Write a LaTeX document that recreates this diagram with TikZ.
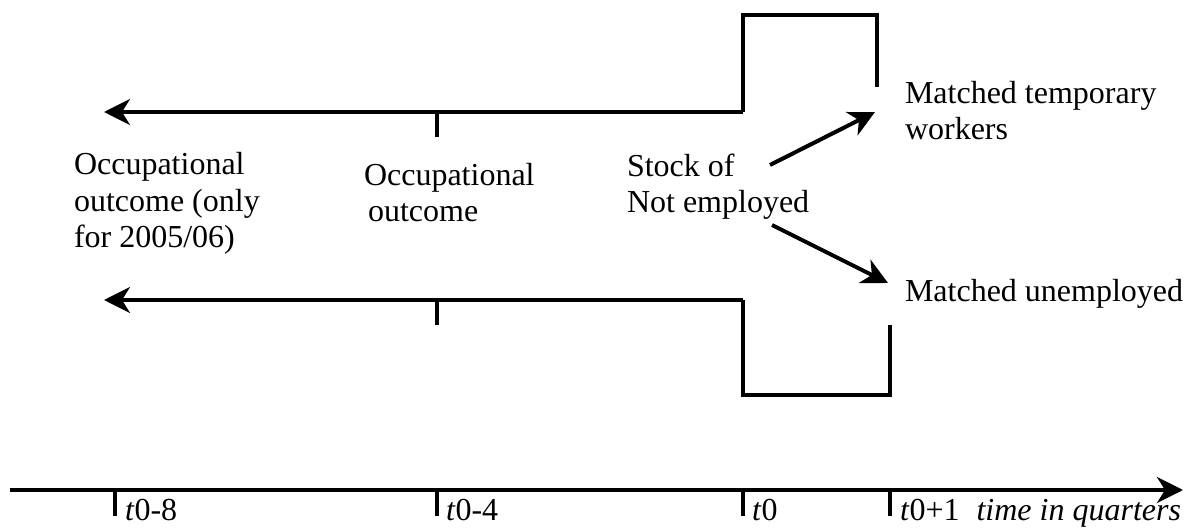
\documentclass[tikz,border=0pt]{standalone}
\usepackage{fontspec}
\setmainfont{Liberation Serif}
\usetikzlibrary{arrows.meta}

\begin{document}
\begin{tikzpicture}[x=0.5pt,y=-0.5pt,line width=2pt,
  lbl/.style={anchor=base west,align=left,font=\fontsize{16}{18.3}\selectfont},
  tip/.style={-{Stealth[length=13pt,width=13pt,inset=4pt]}}]
  \tikzstyle{every node}+=[inner sep=0pt]
  \useasboundingbox (0,0) rectangle (1188,528);
  \coordinate (topr) at (743,112);
  \coordinate (topl) at (104,112);
  \coordinate (botr) at (743,300);
  \coordinate (botl) at (104,300);
  \coordinate (axl) at (10,490);
  \coordinate (axr) at (1183,490);
  \draw [black, tip] (topr) -- (topl);
  \draw [black] (topr) -- (743,15) -- (877,15) -- (877,87);
  \draw [black] (437,112) -- (437,137);
  \draw [black, tip] (botr) -- (botl);
  \draw [black] (botr) -- (743,395) -- (890,395) -- (890,325);
  \draw [black] (437,300) -- (437,325);
  \draw [black, tip] (axl) -- (axr);
  \foreach \x/\nm in {115/m8,437/m4,743/z,890/p1}
    \draw [black] (\x,490) coordinate (tk\nm) -- (\x,516);
  \node [lbl] (occold) at (72,248) {Occupational\\outcome (only\\for 2005/06)};
  \node [lbl] (occ) at (362,222) {Occupational\\\hspace{2pt}outcome};
  \node [lbl] (stock) at (625,213) {Stock of\\Not employed};
  \node [lbl] (temp) at (903,140) {Matched temporary\\workers};
  \node [lbl] (unemp) at (903,302) {Matched unemployed};
  \node [lbl] (lm8) at (123,521) {\textit{t}0-8};
  \node [lbl] (lm4) at (444,521) {\textit{t}0-4};
  \node [lbl] (lz) at (750,521) {\textit{t}0};
  \node [lbl] (lp1) at (898,521) {\textit{t}0+1};
  \node [lbl,anchor=base east] (tq) at (1183,521) {\textit{time in quarters}};
  \coordinate (s1) at (770,165);
  \coordinate (e1) at (875,112);
  \coordinate (s2) at (772,225);
  \coordinate (e2) at (888,283);
  \draw [black, tip] (s1) -- (e1);
  \draw [black, tip] (s2) -- (e2);
\end{tikzpicture}
\end{document}
